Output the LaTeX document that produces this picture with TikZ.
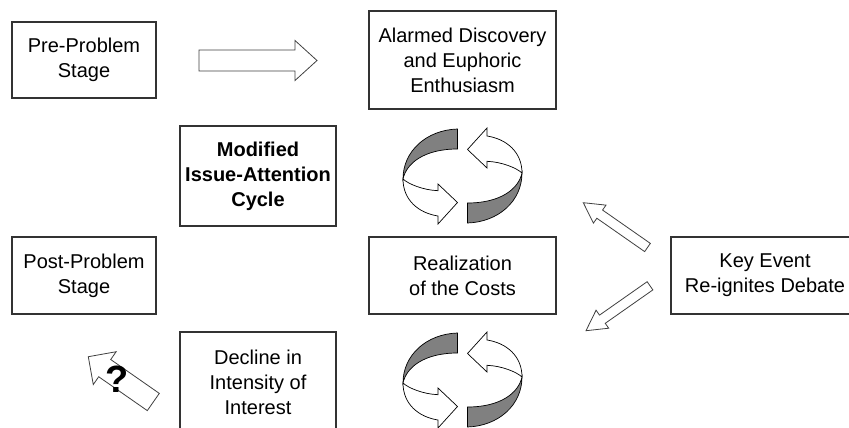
\documentclass[tikz,border=0pt]{standalone}
\usepackage{fontspec}
\setmainfont{Liberation Sans}
\usetikzlibrary{calc}

\tikzset{
  stagebox/.style={draw=black!80, line width=1.2pt, fill=white, align=center,
    inner sep=0pt, font=\fontsize{20}{25}\selectfont},
  blockline/.style={draw=black!75, line width=0.8pt, fill=white},
  ribbon/.style={draw=black, line width=0.7pt},
  % one half of the turning pair, head at the bottom
  halfturn/.pic={
    \filldraw[ribbon, fill=white] (-59.5,3) .. controls (-59.5,24) and (-44,37) .. (-24.5,40)
      -- (-24.5,48) -- (-5,26.5) -- (-24.5,8) -- (-24.5,14.7)
      .. controls (-40,14) and (-54,8) .. (-59.5,3) -- cycle;
    \filldraw[ribbon, fill=gray] (-5,-47) .. controls (-36,-46) and (-59.5,-25) .. (-59.5,3)
      .. controls (-56,-13) and (-38,-27) .. (-5,-27) -- cycle;
  },
  turnpair/.pic={
    \pic {halfturn};
    \pic[rotate=180] {halfturn};
  }
}

% block arrow: tail, tip, shaft half width, head half width, head length
\newcommand{\blockarrow}[5]{%
  \coordinate (#1h) at ($(#2)!#5!(#1)$);
  \draw[blockline] ($(#1)!#3!90:(#2)$) -- ($(#1h)!#3!-90:(#1)$) -- ($(#1h)!#4!-90:(#1)$)
    -- (#2) -- ($(#1h)!#4!90:(#1)$) -- ($(#1h)!#3!90:(#1)$) -- ($(#1)!#3!-90:(#2)$) -- cycle;
}

\begin{document}
\begin{tikzpicture}[x=1pt, y=-1pt]
\useasboundingbox (0,0) rectangle (849,428);
\clip (0,0) rectangle (849,428);

% Stages
\node[stagebox, minimum width=144pt, minimum height=76pt] (pre) at (84,60) {Pre-Problem\\Stage};
\node[stagebox, minimum width=187pt, minimum height=98pt] (alarmed) at (462.5,60) {Alarmed Discovery\\and Euphoric\\Enthusiasm};
\node[stagebox, minimum width=156pt, minimum height=100pt, font=\fontsize{20}{25}\selectfont\bfseries] (modified) at (258,176) {Modified\\Issue-Attention\\Cycle};
\node[stagebox, minimum width=144pt, minimum height=77pt] (post) at (84,275.5) {Post-Problem\\Stage};
\node[stagebox, minimum width=187pt, minimum height=77pt] (costs) at (462.5,275.5) {Realization\\of the Costs};
\node[stagebox, minimum width=188pt, minimum height=77pt] (keyevent) at (765,275.5) {Key Event\\Re-ignites Debate};
\node[stagebox, minimum width=156pt, minimum height=100pt] (decline) at (258,382) {Decline in\\Intensity of\\Interest};

% Arrow ends
\coordinate (preTail) at (199,60.5);
\coordinate (preTip) at (317,60.5);
\coordinate (upTail) at (647.5,247.5);
\coordinate (upTip) at (583.3,202.7);
\coordinate (downTail) at (650,285.8);
\coordinate (downTip) at (586,330.7);
\coordinate (askTail) at (153.3,402);
\coordinate (askTip) at (88.3,356.7);

% Block arrows
\blockarrow{preTail}{preTip}{10.5pt}{20pt}{22pt}
\blockarrow{upTail}{upTip}{5pt}{11pt}{20pt}
\blockarrow{downTail}{downTip}{5pt}{11pt}{20pt}
\blockarrow{askTail}{askTip}{10.5pt}{20pt}{20pt}

% Turning pairs
\pic at (462.5,176) {turnpair};
\pic at (462.5,380) {turnpair};

% Question mark
\node[font=\fontsize{38}{40}\selectfont\bfseries, inner sep=0pt] (ask) at (117.5,379) {?};

\end{tikzpicture}
\end{document}
